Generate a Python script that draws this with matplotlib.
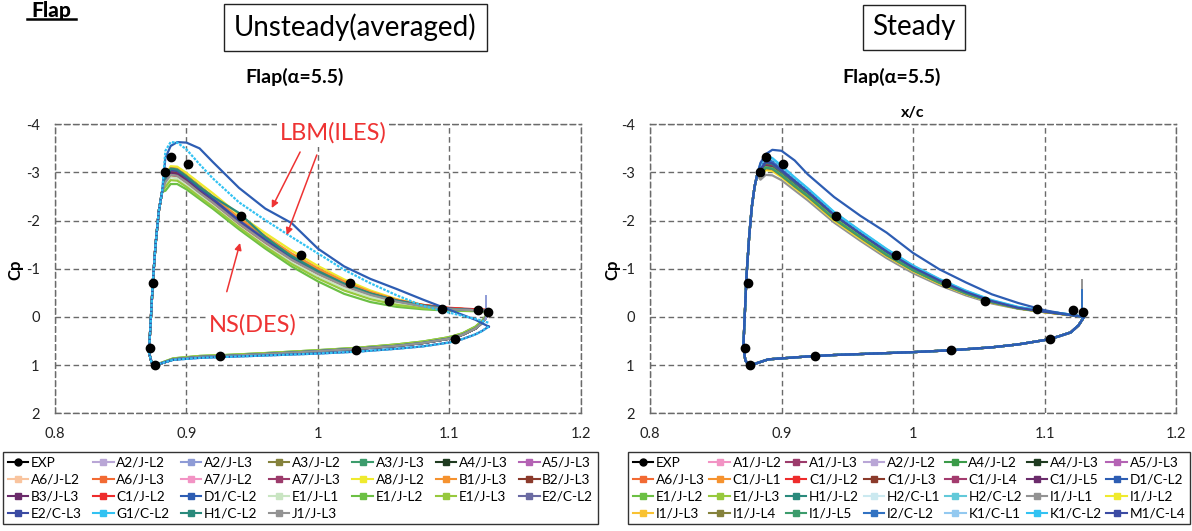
import matplotlib
matplotlib.use("Agg")
import matplotlib.pyplot as plt
from matplotlib.lines import Line2D

plt.rcParams['font.family'] = ['Lato', 'DejaVu Sans']
plt.rcParams['axes.unicode_minus'] = False

# ---------------- data ----------------
# experiment (same points in both panels)
exp_x = [0.888, 0.901, 0.8835, 0.9412, 0.987, 1.0248, 1.0545, 1.0942, 1.1215, 1.1292,
         0.8746, 0.8720, 0.8764, 0.9258, 1.0288, 1.1045]
exp_cp = [-3.33, -3.18, -3.01, -2.09, -1.28, -0.70, -0.34, -0.16, -0.14, -0.11,
          -0.70, 0.64, 1.0, 0.81, 0.685, 0.46]

# stations on the upper surface (after the leading edge)
ux = [0.884, 0.888, 0.893, 0.90, 0.91, 0.92, 0.94, 0.96, 0.98, 1.00, 1.02, 1.04,
      1.06, 1.08, 1.10, 1.12, 1.13]

# ---- left panel: unsteady (averaged) ----
l_le_x = [0.873, 0.8745, 0.8765, 0.879, 0.8815]
l_le_cp = [0.0, -0.75, -1.5, -2.2, -2.6]
l_low_x = [0.8715, 0.8735, 0.8765, 0.88, 0.89, 0.91, 0.93, 0.96, 1.00, 1.03, 1.06,
           1.08, 1.10, 1.11, 1.12, 1.125, 1.13]
l_low_ns = [0.73, 0.95, 1.02, 0.97, 0.88, 0.83, 0.81, 0.77, 0.71, 0.66, 0.60, 0.54,
            0.45, 0.37, 0.24, 0.12, -0.08]
l_low_e1 = [0.73, 0.95, 1.02, 0.96, 0.86, 0.81, 0.79, 0.75, 0.69, 0.64, 0.57, 0.51,
            0.42, 0.34, 0.20, 0.08, -0.10]
l_low_lbm = [0.73, 0.95, 1.02, 0.97, 0.89, 0.85, 0.83, 0.80, 0.76, 0.72, 0.66, 0.61,
             0.53, 0.46, 0.36, 0.29, 0.20]

left_names = ['A2/J-L2', 'A2/J-L3', 'A3/J-L2', 'A3/J-L3', 'A4/J-L3', 'A5/J-L3',
              'A6/J-L2', 'A6/J-L3', 'A7/J-L2', 'A7/J-L3', 'A8/J-L2', 'B1/J-L3',
              'B2/J-L3', 'B3/J-L3', 'C1/J-L2', 'D1/C-L2', 'E1/J-L1', 'E1/J-L2',
              'E1/J-L3', 'E2/C-L2', 'E2/C-L3', 'G1/C-L2', 'H1/C-L2', 'J1/J-L3']
left_colors = ['#B9A6D6', '#8E9BD6', '#85823C', '#3C9C6C', '#1F3B20', '#B463B4',
               '#F9C49E', '#F26A33', '#F293C4', '#9C3B6B', '#EFEA2E', '#F5922F',
               '#8B3A2B', '#6B2B6B', '#EE2C2C', '#2D5DB3', '#C9E5C2', '#6CC044',
               '#97C93D', '#6B6BA3', '#3B4BA3', '#32C2F2', '#2A8A7C', '#939393']
left_lower = ['ns', 'ns', 'ns', 'ns', 'ns', 'ns', 'ns', 'ns', 'ns', 'ns', 'ns', 'ns',
              'ns', 'ns', 'ns', 'lbm', 'e1', 'e1', 'e1', 'ns', 'ns', 'lbm', 'ns', 'ns']
left_upper = [
    [-2.88, -3.06, -3.04, -2.90, -2.68, -2.47, -2.02, -1.62, -1.26, -0.95, -0.69, -0.49, -0.34, -0.24, -0.17, -0.14, -0.13],
    [-2.86, -3.03, -3.01, -2.87, -2.65, -2.44, -1.99, -1.59, -1.23, -0.93, -0.67, -0.48, -0.33, -0.23, -0.17, -0.14, -0.13],
    [-2.90, -3.10, -3.08, -2.94, -2.72, -2.50, -2.05, -1.66, -1.29, -0.98, -0.71, -0.50, -0.35, -0.24, -0.18, -0.15, -0.14],
    [-2.88, -3.07, -3.05, -2.91, -2.69, -2.48, -2.03, -1.63, -1.27, -0.96, -0.70, -0.50, -0.35, -0.24, -0.18, -0.15, -0.14],
    [-2.86, -3.04, -3.02, -2.88, -2.66, -2.45, -2.00, -1.60, -1.24, -0.94, -0.68, -0.48, -0.34, -0.24, -0.17, -0.14, -0.13],
    [-2.84, -3.00, -2.98, -2.84, -2.62, -2.41, -1.97, -1.57, -1.21, -0.91, -0.66, -0.47, -0.33, -0.23, -0.17, -0.14, -0.13],
    [-2.82, -2.97, -2.95, -2.82, -2.60, -2.39, -1.95, -1.55, -1.19, -0.89, -0.64, -0.46, -0.32, -0.22, -0.16, -0.13, -0.12],
    [-2.87, -3.05, -3.03, -2.89, -2.67, -2.46, -2.01, -1.61, -1.25, -0.95, -0.69, -0.49, -0.34, -0.24, -0.17, -0.14, -0.13],
    [-2.80, -2.94, -2.92, -2.79, -2.57, -2.36, -1.92, -1.53, -1.17, -0.88, -0.63, -0.45, -0.31, -0.22, -0.16, -0.13, -0.12],
    [-2.85, -3.01, -2.99, -2.85, -2.63, -2.42, -1.97, -1.57, -1.21, -0.92, -0.66, -0.47, -0.33, -0.23, -0.17, -0.14, -0.13],
    [-2.92, -3.13, -3.12, -2.99, -2.78, -2.57, -2.12, -1.74, -1.38, -1.06, -0.78, -0.55, -0.37, -0.25, -0.18, -0.15, -0.14],
    [-2.90, -3.09, -3.07, -2.93, -2.71, -2.50, -2.06, -1.68, -1.32, -1.01, -0.74, -0.52, -0.36, -0.25, -0.18, -0.15, -0.14],
    [-2.84, -3.00, -2.98, -2.84, -2.62, -2.41, -1.96, -1.57, -1.21, -0.92, -0.67, -0.48, -0.34, -0.24, -0.18, -0.15, -0.14],
    [-2.83, -2.99, -2.97, -2.83, -2.61, -2.40, -1.96, -1.56, -1.20, -0.91, -0.66, -0.47, -0.33, -0.23, -0.17, -0.14, -0.13],
    [-2.78, -2.92, -2.90, -2.76, -2.55, -2.34, -1.90, -1.52, -1.17, -0.89, -0.65, -0.47, -0.34, -0.25, -0.19, -0.16, -0.15],
    [-3.30, -3.55, -3.63, -3.62, -3.50, -3.22, -2.68, -2.25, -1.95, -1.42, -1.05, -0.79, -0.58, -0.36, -0.15, 0.06, 0.20],
    [-2.76, -2.90, -2.88, -2.74, -2.53, -2.32, -1.88, -1.49, -1.14, -0.85, -0.60, -0.42, -0.29, -0.20, -0.15, -0.13, -0.12],
    [-2.62, -2.76, -2.76, -2.65, -2.45, -2.25, -1.82, -1.42, -1.05, -0.74, -0.48, -0.31, -0.21, -0.16, -0.13, -0.12, -0.11],
    [-2.70, -2.84, -2.83, -2.70, -2.49, -2.29, -1.86, -1.46, -1.10, -0.80, -0.55, -0.37, -0.25, -0.18, -0.14, -0.13, -0.12],
    [-2.88, -3.06, -3.04, -2.90, -2.67, -2.46, -2.01, -1.61, -1.24, -0.94, -0.68, -0.48, -0.33, -0.23, -0.17, -0.14, -0.13],
    [-2.87, -3.05, -3.03, -2.89, -2.66, -2.45, -2.00, -1.60, -1.24, -0.94, -0.68, -0.48, -0.33, -0.23, -0.17, -0.14, -0.13],
    [-3.45, -3.63, -3.62, -3.48, -3.17, -2.88, -2.38, -2.01, -1.66, -1.32, -0.98, -0.70, -0.45, -0.23, -0.09, 0.04, 0.12],
    [-2.90, -3.08, -3.06, -2.92, -2.70, -2.50, -2.16, -1.66, -1.26, -0.95, -0.69, -0.49, -0.34, -0.24, -0.17, -0.14, -0.13],
    [-2.80, -2.95, -2.93, -2.80, -2.58, -2.38, -1.94, -1.55, -1.19, -0.90, -0.65, -0.46, -0.32, -0.22, -0.16, -0.14, -0.13],
]

# ---- right panel: steady ----
r_le_x = [0.872, 0.8735, 0.8755, 0.8775, 0.8795, 0.8815]
r_le_cp = [0.0, -0.9, -1.7, -2.3, -2.7, -2.95]
r_low_x = [0.871, 0.8725, 0.8755, 0.88, 0.89, 0.90, 0.92, 0.94, 0.97, 1.00, 1.03,
           1.06, 1.08, 1.10, 1.11, 1.12, 1.126, 1.13]
r_low = [0.62, 0.90, 1.02, 0.97, 0.88, 0.86, 0.82, 0.79, 0.76, 0.73, 0.69, 0.63,
         0.57, 0.48, 0.41, 0.32, 0.17, 0.0]

right_names = ['A1/J-L2', 'A1/J-L3', 'A2/J-L2', 'A4/J-L2', 'A4/J-L3', 'A5/J-L3',
               'A6/J-L3', 'C1/J-L1', 'C1/J-L2', 'C1/J-L3', 'C1/J-L4', 'C1/J-L5',
               'D1/C-L2', 'E1/J-L2', 'E1/J-L3', 'H1/J-L2', 'H2/C-L1', 'H2/C-L2',
               'I1/J-L1', 'I1/J-L2', 'I1/J-L3', 'I1/J-L4', 'I1/J-L5', 'I2/C-L2',
               'K1/C-L1', 'K1/C-L2', 'M1/C-L4']
right_colors = ['#F293C4', '#9C3B6B', '#B9A6D6', '#3A9A48', '#1F3B20', '#B463B4',
                '#F26A33', '#F5922F', '#EE2C2C', '#8B3A2B', '#A33B6E', '#6B2B6B',
                '#2D5DB3', '#6CC044', '#97C93D', '#2A8A7C', '#CBE9F0', '#62C9D9',
                '#939393', '#EFEA2E', '#F9C232', '#85823C', '#3C9C6C', '#3172C2',
                '#93C9F0', '#32C2F2', '#3B4BA3']
right_upper = [
    [-3.00, -3.15, -3.12, -2.98, -2.76, -2.55, -2.08, -1.70, -1.33, -1.00, -0.74, -0.51, -0.32, -0.19, -0.11, -0.04, 0.00],
    [-3.03, -3.18, -3.15, -3.00, -2.78, -2.57, -2.10, -1.72, -1.34, -1.01, -0.75, -0.52, -0.33, -0.19, -0.11, -0.04, 0.00],
    [-2.98, -3.12, -3.10, -2.96, -2.74, -2.53, -2.06, -1.68, -1.31, -0.99, -0.73, -0.50, -0.31, -0.18, -0.11, -0.04, 0.00],
    [-3.02, -3.17, -3.14, -2.99, -2.77, -2.56, -2.09, -1.71, -1.33, -1.00, -0.74, -0.51, -0.32, -0.19, -0.11, -0.04, 0.00],
    [-3.04, -3.19, -3.16, -3.01, -2.79, -2.58, -2.10, -1.72, -1.35, -1.02, -0.75, -0.52, -0.33, -0.19, -0.11, -0.04, 0.00],
    [-2.99, -3.13, -3.11, -2.97, -2.75, -2.54, -2.07, -1.69, -1.32, -0.99, -0.73, -0.50, -0.31, -0.18, -0.11, -0.04, 0.00],
    [-3.08, -3.24, -3.20, -3.04, -2.81, -2.59, -2.11, -1.72, -1.34, -1.01, -0.75, -0.52, -0.33, -0.19, -0.11, -0.04, 0.00],
    [-2.96, -3.10, -3.08, -2.94, -2.72, -2.51, -2.04, -1.66, -1.29, -0.97, -0.71, -0.49, -0.30, -0.18, -0.10, -0.04, 0.00],
    [-3.01, -3.16, -3.13, -2.98, -2.76, -2.55, -2.08, -1.70, -1.33, -1.00, -0.74, -0.51, -0.32, -0.19, -0.11, -0.04, 0.00],
    [-3.00, -3.15, -3.12, -2.97, -2.75, -2.54, -2.07, -1.69, -1.32, -1.00, -0.73, -0.50, -0.31, -0.18, -0.11, -0.04, 0.00],
    [-2.99, -3.14, -3.11, -2.97, -2.75, -2.54, -2.07, -1.69, -1.32, -0.99, -0.73, -0.50, -0.31, -0.18, -0.11, -0.04, 0.00],
    [-2.99, -3.13, -3.11, -2.96, -2.74, -2.53, -2.07, -1.69, -1.32, -0.99, -0.73, -0.50, -0.31, -0.18, -0.11, -0.04, 0.00],
    [-3.20, -3.38, -3.47, -3.45, -3.25, -2.96, -2.49, -2.10, -1.75, -1.33, -0.99, -0.72, -0.47, -0.29, -0.14, -0.04, 0.00],
    [-2.97, -3.11, -3.09, -2.95, -2.73, -2.52, -2.05, -1.67, -1.30, -0.98, -0.72, -0.50, -0.31, -0.18, -0.11, -0.04, 0.00],
    [-2.96, -3.10, -3.08, -2.94, -2.72, -2.51, -2.05, -1.67, -1.30, -0.98, -0.72, -0.50, -0.31, -0.18, -0.11, -0.04, 0.00],
    [-3.05, -3.20, -3.17, -3.02, -2.80, -2.59, -2.12, -1.73, -1.35, -1.02, -0.75, -0.52, -0.33, -0.19, -0.11, -0.04, 0.00],
    [-3.12, -3.28, -3.25, -3.10, -2.87, -2.65, -2.16, -1.77, -1.39, -1.05, -0.77, -0.53, -0.34, -0.20, -0.12, -0.05, 0.00],
    [-3.14, -3.30, -3.27, -3.11, -2.88, -2.66, -2.17, -1.78, -1.40, -1.06, -0.78, -0.54, -0.34, -0.20, -0.12, -0.05, 0.00],
    [-2.85, -2.95, -2.94, -2.84, -2.63, -2.42, -1.96, -1.58, -1.22, -0.91, -0.66, -0.45, -0.28, -0.17, -0.10, -0.04, 0.00],
    [-2.92, -3.05, -3.03, -2.90, -2.68, -2.47, -2.00, -1.62, -1.26, -0.95, -0.69, -0.48, -0.30, -0.18, -0.10, -0.04, 0.00],
    [-2.94, -3.07, -3.05, -2.92, -2.70, -2.49, -2.02, -1.64, -1.27, -0.96, -0.70, -0.48, -0.30, -0.18, -0.10, -0.04, 0.00],
    [-2.95, -3.09, -3.07, -2.93, -2.71, -2.50, -2.03, -1.65, -1.28, -0.97, -0.71, -0.49, -0.30, -0.18, -0.10, -0.04, 0.00],
    [-2.96, -3.10, -3.08, -2.94, -2.72, -2.51, -2.04, -1.66, -1.29, -0.97, -0.71, -0.49, -0.31, -0.18, -0.11, -0.04, 0.00],
    [-3.10, -3.26, -3.23, -3.07, -2.84, -2.62, -2.14, -1.75, -1.37, -1.04, -0.76, -0.53, -0.33, -0.20, -0.12, -0.05, 0.00],
    [-3.15, -3.31, -3.28, -3.12, -2.89, -2.66, -2.17, -1.78, -1.40, -1.06, -0.78, -0.54, -0.34, -0.20, -0.12, -0.05, 0.00],
    [-3.18, -3.34, -3.30, -3.14, -2.90, -2.67, -2.18, -1.79, -1.41, -1.07, -0.79, -0.55, -0.35, -0.21, -0.12, -0.05, 0.00],
    [-3.06, -3.22, -3.19, -3.04, -2.82, -2.60, -2.12, -1.73, -1.36, -1.03, -0.76, -0.52, -0.33, -0.19, -0.11, -0.04, 0.00],
]

# trailing-edge spikes (series, x, top cp)
l_spike = ('A2/J-L3', 1.1278, -0.44)
r_spikes = [('I1/J-L1', 1.1283, -0.77), ('I2/C-L2', 1.1283, -0.56)]

xticks = [0.8, 0.9, 1.0, 1.1, 1.2]
xticklabels = ['0.8', '0.9', '1', '1.1', '1.2']
yticks = [-4, -3, -2, -1, 0, 1, 2]

# ---------------- figure ----------------
W, H = 1192, 531
fig = plt.figure(figsize=(W / 100, H / 100), dpi=100)
grid_c = '#6a6a6a'
red = '#EE3333'


def px(x, y, w, h):
    return [x / W, 1 - (y + h) / H, w / W, h / H]


def style_axes(ax):
    ax.set_xlim(0.8, 1.2)
    ax.set_ylim(2, -4)
    ax.set_xticks(xticks)
    ax.set_xticklabels(xticklabels)
    ax.set_yticks(yticks)
    ax.tick_params(length=0, labelsize=10.5, colors='#222222')
    ax.tick_params(axis='y', pad=11)
    ax.tick_params(axis='x', pad=10)
    ax.grid(True, color=grid_c, linestyle=(0, (4, 2.5)), lw=1)
    for s in ax.spines.values():
        s.set_color(grid_c)
        s.set_linestyle((0, (4, 2.5)))
        s.set_linewidth(1)
    ax.set_axisbelow(True)


def legend_handles(names, colors):
    hs = [Line2D([], [], color='black', marker='o', markersize=5, lw=1.5)]
    for c in colors:
        hs.append(Line2D([], [], color=c, marker='s', markersize=5, lw=1.5))
    labels = ['EXP'] + list(names)
    n = len(labels)
    ncol = 7
    nrow = (n + ncol - 1) // ncol
    order = [r * ncol + c for c in range(ncol) for r in range(nrow) if r * ncol + c < n]
    return [hs[i] for i in order], [labels[i] for i in order]


# ---- left ----
axL = fig.add_axes(px(55, 124.3, 525.7, 289))
style_axes(axL)
lows = {'ns': l_low_ns, 'e1': l_low_e1, 'lbm': l_low_lbm}
order_l = [i for i, g in enumerate(left_lower) if g != 'lbm'] + \
          [i for i, g in enumerate(left_lower) if g == 'lbm']
for i in order_l:
    low = lows[left_lower[i]]
    xs = l_low_x[::-1] + l_le_x + ux
    cs = low[::-1] + l_le_cp + left_upper[i]
    ls = (0, (1.2, 0.6)) if left_names[i] == 'G1/C-L2' else '-'
    axL.plot(xs, cs, color=left_colors[i], lw=1.6, ls=ls, zorder=3)
si = left_names.index(l_spike[0])
axL.plot([l_spike[1], l_spike[1]], [l_spike[2], 0.05], color=left_colors[si], lw=1.4, zorder=3)
axL.plot(exp_x, exp_cp, 'o', color='black', markersize=6, zorder=5)

axL.text(1.0116, -3.82, 'LBM(ILES)', color=red, fontsize=17, ha='center', va='center',
         bbox=dict(facecolor='white', edgecolor='none', pad=2), zorder=6, clip_on=False)
axL.text(0.9507, 0.16, 'NS(DES)', color=red, fontsize=17, ha='center', va='center',
         bbox=dict(facecolor='white', edgecolor='none', pad=1), zorder=6)
arrow = dict(arrowstyle='-|>', color=red, lw=1.1, mutation_scale=10, shrinkA=0, shrinkB=0)
axL.annotate('', xy=(0.9649, -2.262), xytext=(0.9865, -3.425), arrowprops=arrow, zorder=6)
axL.annotate('', xy=(0.9763, -1.702), xytext=(0.9992, -3.363), arrowprops=arrow, zorder=6)
axL.annotate('', xy=(0.9408, -1.536), xytext=(0.9307, -0.525), arrowprops=arrow, zorder=6)

# ---- right ----
axR = fig.add_axes(px(650, 124.3, 526, 289))
style_axes(axR)
order_r = [i for i, n in enumerate(right_names) if n != 'D1/C-L2'] + [right_names.index('D1/C-L2')]
for i in order_r:
    xs = r_low_x[::-1] + r_le_x + ux
    cs = r_low[::-1] + r_le_cp + right_upper[i]
    ls = (0, (1.2, 0.6)) if right_names[i] in ('K1/C-L1', 'H2/C-L1') else '-'
    axR.plot(xs, cs, color=right_colors[i], lw=1.6, ls=ls, zorder=3)
for name, sx, top in r_spikes:
    axR.plot([sx, sx], [top, 0.05], color=right_colors[right_names.index(name)], lw=1.4, zorder=3)
axR.plot(exp_x, exp_cp, 'o', color='black', markersize=6, zorder=5)

# ---- titles & labels ----
box = dict(boxstyle='square,pad=0.35', facecolor='white', edgecolor='#222222', lw=1)
fig.text(355.5 / W, 1 - 27.5 / H, 'Unsteady(averaged)', fontsize=20, ha='center', va='center', bbox=box)
fig.text(914 / W, 1 - 27.5 / H, 'Steady', fontsize=20, ha='center', va='center', bbox=box)
fig.text(295 / W, 1 - 77 / H, 'Flap(α=5.5)', fontsize=14, fontweight='bold', ha='center', va='center')
fig.text(892 / W, 1 - 77 / H, 'Flap(α=5.5)', fontsize=14, fontweight='bold', ha='center', va='center')
fig.text(913 / W, 1 - 113 / H, 'x/c', fontsize=11.5, fontweight='bold', ha='center', va='center')
fig.text(15 / W, 1 - 270 / H, 'Cp', fontsize=12, fontweight='bold', rotation=90, ha='center', va='center')
fig.text(612 / W, 1 - 270 / H, 'Cp', fontsize=12, fontweight='bold', rotation=90, ha='center', va='center')
fig.text(51 / W, 1 - 1 / H, 'Flap', fontsize=15, fontweight='black', ha='center', va='top')
fig.add_artist(Line2D([27 / W, 76 / W], [1 - 19 / H, 1 - 19 / H], color='black', lw=1.8))

# ---- legends ----
leg_kw = dict(loc='upper left', mode='expand', ncol=7, fontsize=9.8, handlelength=1.5,
              handletextpad=0.2, labelspacing=0.36, borderpad=0.35, fancybox=False,
              edgecolor='#333333', framealpha=1, borderaxespad=0)
hl, ll = legend_handles(left_names, left_colors)
fig.legend(hl, ll, bbox_to_anchor=(3 / W, 0, 595 / W, 1 - 452 / H), **leg_kw)
hr, lr = legend_handles(right_names, right_colors)
fig.legend(hr, lr, bbox_to_anchor=(628 / W, 0, 562 / W, 1 - 452 / H), **leg_kw)

fig.savefig('out.png', dpi=100)
